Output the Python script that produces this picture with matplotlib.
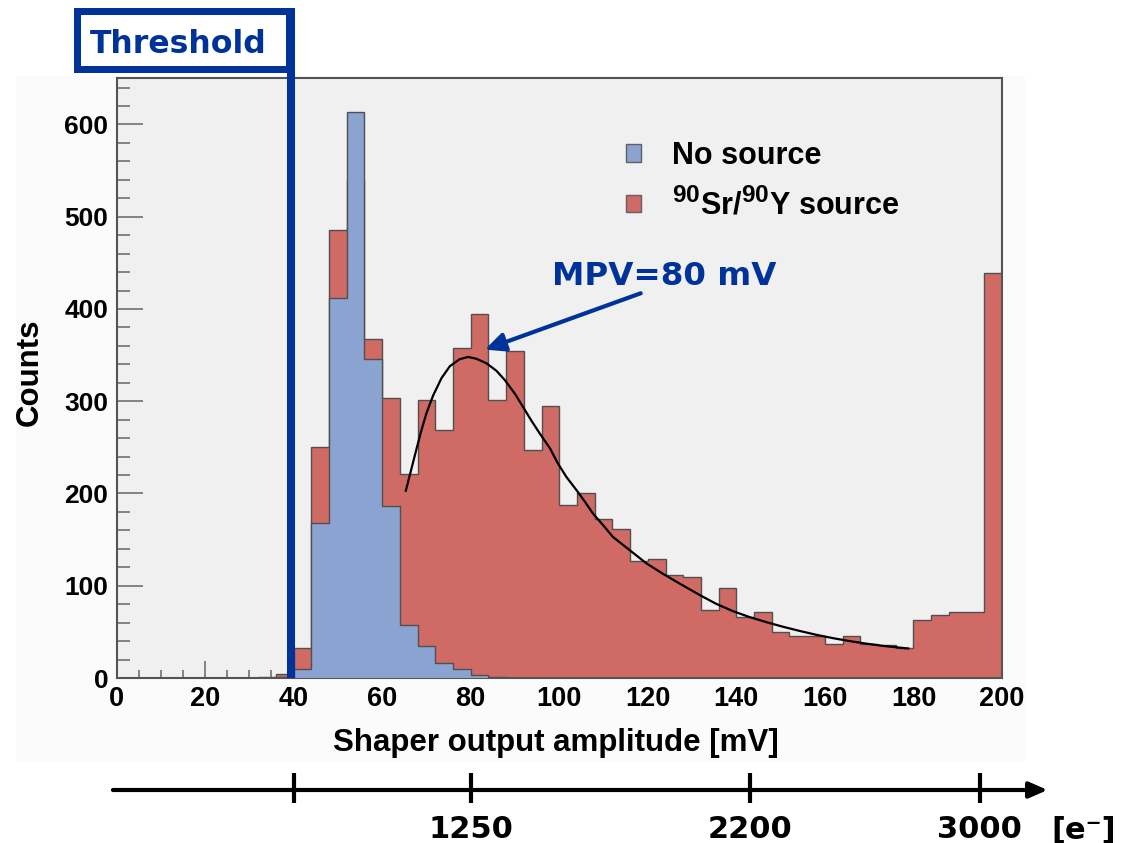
import matplotlib
matplotlib.use("Agg")
import matplotlib.pyplot as plt
import matplotlib._mathtext as _mt
import numpy as np
from matplotlib.patches import Patch, Rectangle
from matplotlib.ticker import MultipleLocator

# ---------------- data ----------------
bin_edges_mv = list(range(0, 204, 4))  # 4 mV bins, 0..200

counts_source = [0, 0, 0, 0, 0, 0, 0, 0, 1, 4,
                 32, 250, 486, 540, 367, 303, 221, 301, 269, 358,
                 395, 301, 354, 247, 295, 187, 200, 172, 161, 127,
                 129, 112, 109, 74, 98, 66, 71, 50, 45, 46,
                 37, 46, 37, 36, 32, 63, 68, 72, 71, 439]

counts_nosource = [0, 0, 0, 0, 0, 0, 0, 0, 0, 1,
                   10, 168, 412, 613, 346, 186, 57, 35, 16, 10,
                   3, 1, 0, 0, 0, 0, 0, 0, 0, 0,
                   0, 0, 0, 0, 0, 0, 0, 0, 0, 0,
                   0, 0, 0, 0, 0, 0, 0, 0, 0, 0]

fit_x = [65.35, 66.25, 67.0, 67.8, 68.9, 70.0, 71.5, 73.4, 75.3, 77.5,
         79.4, 81.3, 83.6, 85.8, 87.7, 90.0, 91.8, 93.7, 95.6, 97.9,
         99.7, 101.6, 103.9, 105.8, 107.6, 109.9, 112.1, 115.9, 119.7, 123.4,
         127.5, 131.7, 135.4, 139.2, 143.0, 146.8, 150.5, 154.3, 158.1, 161.8,
         165.6, 169.4, 173.1, 178.8]
fit_y = [203, 220, 234, 249, 269, 287, 306, 325, 338, 345.5,
         348, 346, 341, 333, 323, 308, 294, 279, 265, 249,
         232.5, 218, 203.6, 191, 178.4, 165.7, 153, 138.6, 124.2, 113,
         101.5, 90, 80.5, 72.5, 66, 60.5, 55.6, 51, 46.8, 43.2,
         40, 37.2, 34.8, 32]

legend_labels = ["No source", r"$^{90}$Sr/$^{90}$Y source"]
x_ticks = [0, 20, 40, 60, 80, 100, 120, 140, 160, 180, 200]
y_ticks = [0, 100, 200, 300, 400, 500, 600]

threshold_mv = 39.4
mpv_point = (83.2, 356)
mpv_label = "MPV=80 mV"

electron_tick_mv = [40, 80, 143, 195]
electron_tick_labels = ["", "1250", "2200", "3000"]
electron_unit = "[e\u207b]"

# ---------------- style ----------------
W, H = 1126, 843
BLUE_FILL = "#8aa3d0"
RED_FILL = "#d06a65"
EDGE = "#505050"
DARK_BLUE = "#003399"

# slightly larger superscripts (as in the reference legend)
try:
    _mt.SHRINK_FACTOR = 0.8
except Exception:
    pass

plt.rcParams["font.family"] = ["Liberation Sans", "DejaVu Sans"]
plt.rcParams["font.weight"] = "bold"
plt.rcParams["mathtext.fontset"] = "custom"
plt.rcParams["mathtext.rm"] = "Liberation Sans:bold"
plt.rcParams["mathtext.it"] = "Liberation Sans:bold"
plt.rcParams["mathtext.bf"] = "Liberation Sans:bold"

fig = plt.figure(figsize=(W / 100, H / 100), dpi=100)
fig.patch.set_facecolor("white")

# faint background panel
panel = Rectangle((16 / W, 1 - 762 / H), (1025 - 16) / W, (762 - 76) / H,
                  transform=fig.transFigure, facecolor="#fbfbfb",
                  edgecolor="none", zorder=-10)
fig.patches.append(panel)

ax_left, ax_right = 116.5, 1002
ax_top, ax_bot = 78.3, 678
ax = fig.add_axes([ax_left / W, 1 - ax_bot / H, (ax_right - ax_left) / W, (ax_bot - ax_top) / H])
ax.set_zorder(1)
ax.set_facecolor("#f0f0f0")

ax.stairs(counts_source, bin_edges_mv, fill=True, facecolor=RED_FILL, edgecolor=EDGE,
          linewidth=1.0, zorder=2)
ax.stairs(counts_nosource, bin_edges_mv, fill=True, facecolor=BLUE_FILL, edgecolor=EDGE,
          linewidth=1.0, zorder=3)
ax.plot(fit_x, fit_y, color="black", lw=1.6, zorder=4)

ax.set_xlim(0, 200)
ax.set_ylim(0, 650)
ax.set_xticks(x_ticks)
ax.set_yticks(y_ticks)
ax.xaxis.set_minor_locator(MultipleLocator(5))
ax.yaxis.set_minor_locator(MultipleLocator(20))
ax.tick_params(axis="both", which="both", direction="in", color="#707070", width=1.2)
ax.tick_params(axis="y", which="major", length=19, pad=6, labelsize=19)
ax.tick_params(axis="y", which="minor", length=9.5)
ax.tick_params(axis="x", which="major", length=12.5, pad=6, labelsize=19.5)
ax.tick_params(axis="x", which="minor", length=6)
for lab in ax.get_xticklabels() + ax.get_yticklabels():
    lab.set_fontweight("bold")
for sp in ax.spines.values():
    sp.set_color("#555555")
    sp.set_linewidth(1.5)

ax.set_xlabel("Shaper output amplitude [mV]", fontsize=22.5, fontweight="bold")
ax.xaxis.set_label_coords(0.496, -0.108)
ax.xaxis.label.set_va("center")
ax.set_ylabel("Counts", fontsize=22.5, fontweight="bold")
ax.yaxis.set_label_coords(-0.098, 0.51)
ax.yaxis.label.set_va("center")

# legend
handles = [Patch(facecolor=BLUE_FILL, edgecolor="#606060", linewidth=1.0),
           Patch(facecolor=RED_FILL, edgecolor="#606060", linewidth=1.0)]
ax.legend(handles, legend_labels, loc="upper left",
          bbox_to_anchor=(626 / W, 1 - 141 / H), bbox_transform=fig.transFigure,
          frameon=False, handlelength=0.5, handleheight=0.5,
          handletextpad=1.0, labelspacing=0.55, borderpad=0, borderaxespad=0,
          prop={"weight": "bold", "size": 22})

# MPV annotation
ax.annotate("", xy=mpv_point, xytext=(118.4, 417),
            arrowprops=dict(arrowstyle="-|>,head_length=0.6,head_width=0.28",
                            mutation_scale=20, lw=3, color=DARK_BLUE,
                            shrinkA=0, shrinkB=0), zorder=6)
ax.text(123.8, 425.6, mpv_label, ha="center", va="baseline", color=DARK_BLUE,
        fontsize=23.4, fontweight="bold", family="DejaVu Sans", zorder=6)

# threshold line + box
y_top_data = (ax_bot - 8) / (ax_bot - ax_top) * 650
ax.plot([threshold_mv, threshold_mv], [0, y_top_data], color=DARK_BLUE, lw=5.8,
        solid_capstyle="butt", clip_on=False, zorder=7)
bw = 7
fig.patches.append(Rectangle(((73 + bw / 2) / W, 1 - (72 - bw / 2) / H),
                             (289 - 73 - bw / 2) / W, (72 - 8 - bw) / H,
                             transform=fig.transFigure, facecolor="white",
                             edgecolor=DARK_BLUE, linewidth=bw * 0.72, zorder=5))
fig.text(178.5 / W, 1 - 53.3 / H, "Threshold", ha="center", va="baseline",
         color=DARK_BLUE, fontsize=22.7, fontweight="bold", family="DejaVu Sans",
         zorder=8)

# electron scale axis
ax2 = fig.add_axes([ax_left / W, 1 - 803 / H, (ax_right - ax_left) / W, 30 / H])
ax2.set_xlim(0, 200)
ax2.set_ylim(0, 1)
ax2.axis("off")
y_line = (803 - 790) / 30
ax2.annotate("", xy=(210.3, y_line), xytext=(-0.8, y_line),
             arrowprops=dict(arrowstyle="-|>,head_length=0.55,head_width=0.24",
                             mutation_scale=20, lw=3, color="black",
                             shrinkA=0, shrinkB=0), annotation_clip=False)
ax2.vlines(electron_tick_mv, 0, 1, color="black", lw=3, clip_on=False)
y_lab = (803 - 838.5) / 30
for pos, lab in zip(electron_tick_mv, electron_tick_labels):
    if lab:
        ax2.text(pos, y_lab, lab, ha="center", va="baseline", fontsize=22,
                 fontweight="bold", family="DejaVu Sans", clip_on=False)
ax2.text(218.5, y_lab, electron_unit, ha="center", va="baseline", fontsize=22,
         fontweight="bold", family="DejaVu Sans", clip_on=False)

fig.savefig("out.png", dpi=100)
